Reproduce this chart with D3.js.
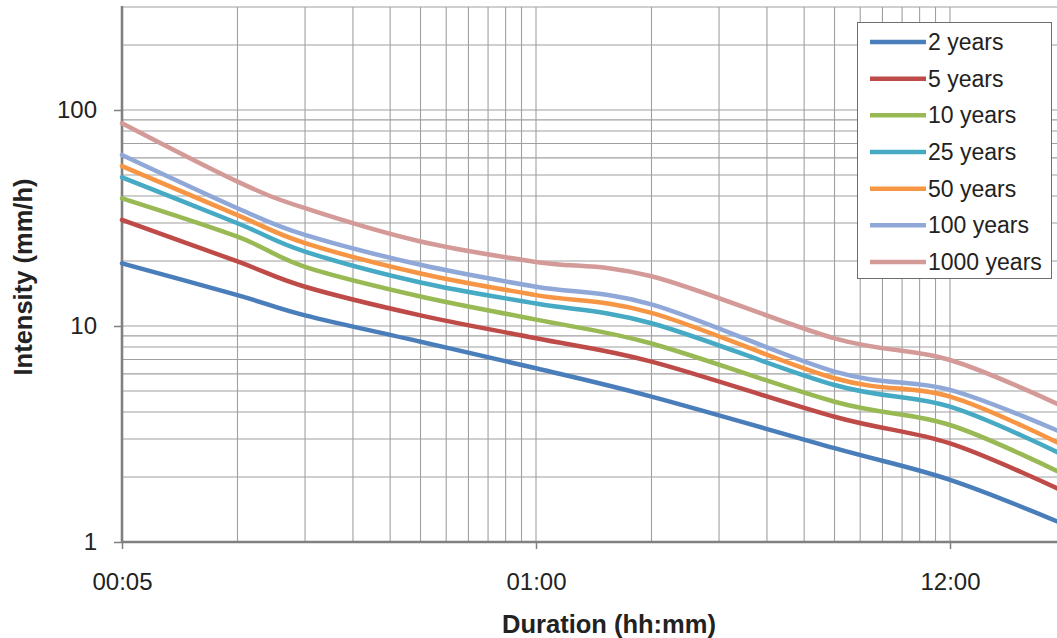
<!DOCTYPE html>
<html>
<head>
<meta charset="utf-8">
<script src="https://cdn.jsdelivr.net/npm/d3@7"></script>
<style>
  html, body { margin: 0; padding: 0; background: #ffffff; overflow: hidden; }
  svg { display: block; font-family: "Liberation Sans", Arial, sans-serif; }
</style>
</head>
<body>
<svg id="chart" width="1057" height="638"></svg>
<script>
// ---- data ----
const durations = [5, 10, 15, 30, 60, 120, 360, 720, 1440]; // minutes
const seriesNames = ["2 years", "5 years", "10 years", "25 years", "50 years", "100 years", "1000 years"];
const y2    = [19.5, 13.9, 11.2, 8.46, 6.37, 4.71, 2.72, 1.94, 1.20];
const y5    = [31.0, 19.9, 15.2, 11.2, 8.77, 6.84, 3.80, 2.86, 1.70];
const y10   = [39.0, 25.9, 18.8, 13.7, 10.7, 8.30, 4.46, 3.48, 2.04];
const y25   = [48.8, 29.9, 22.1, 15.9, 12.7, 10.3, 5.33, 4.23, 2.50];
const y50   = [55.0, 32.6, 24.2, 17.5, 13.9, 11.5, 5.73, 4.71, 2.77];
const y100  = [61.9, 35.1, 26.4, 19.2, 15.2, 12.6, 6.15, 5.06, 3.16];
const y1000 = [86.8, 46.6, 35.1, 24.6, 19.8, 17.0, 8.77, 6.96, 4.19];
const seriesValues = [y2, y5, y10, y25, y50, y100, y1000];
const seriesColors = ["#4A7EBB", "#BE4B48", "#98B954", "#46AAC5", "#F69544", "#8FA8D8", "#D49A98"];

const xMajorTicks = [5, 60, 720];
const xTickLabels = ["00:05", "01:00", "12:00"];
const yMajorTicks = [1, 10, 100];
const yTickLabels = ["1", "10", "100"];
const yMinorGrid = [2,3,4,5,6,7,8,9,20,30,40,50,60,70,80,90,200,300];
const xMinorGrid = [10,15,20,25,30,35,40,45,50,55,120,180,240,300,360,420,480,540,600,660,1440];

// ---- layout ----
const W = 1057, H = 638;
const svg = d3.select("#chart");

const x = d3.scaleLog().domain([5, 720]).range([122, 950]);
const y = d3.scaleLog().domain([1, 100]).range([542, 110]);
const yTop = y(300);
const xRight = W + 20;

// gridlines
const grid = svg.append("g");
grid.selectAll("line.hg").data(yMinorGrid.concat(yMajorTicks)).enter().append("line")
  .attr("x1", x(5)).attr("x2", xRight)
  .attr("y1", d => y(d)).attr("y2", d => y(d))
  .attr("stroke", "#a0a0a0").attr("stroke-width", 1.1);
grid.selectAll("line.vg").data(xMinorGrid.concat(xMajorTicks)).enter().append("line")
  .attr("x1", d => x(d)).attr("x2", d => x(d))
  .attr("y1", yTop).attr("y2", y(1))
  .attr("stroke", "#a0a0a0").attr("stroke-width", 1.1);

// axes
const xAxis = d3.axisBottom(x).tickValues(xMajorTicks)
  .tickFormat((d, i) => xTickLabels[i]).tickSize(7).tickPadding(24);
const yAxis = d3.axisLeft(y).tickValues(yMajorTicks)
  .tickFormat((d, i) => yTickLabels[i]).tickSize(8).tickPadding(17);

const gx = svg.append("g").attr("transform", `translate(0,${y(1)})`).call(xAxis);
gx.select(".domain").remove();
gx.selectAll(".tick line").attr("stroke", "#808080").attr("stroke-width", 1.5);
gx.selectAll(".tick text").attr("font-size", 24).attr("fill", "#222").attr("font-family", "Liberation Sans, Arial, sans-serif");

const gy = svg.append("g").attr("transform", `translate(${x(5)},0)`).call(yAxis);
gy.select(".domain").remove();
gy.selectAll(".tick line").attr("stroke", "#808080").attr("stroke-width", 1.5);
gy.selectAll(".tick text").attr("font-size", 24).attr("fill", "#222").attr("font-family", "Liberation Sans, Arial, sans-serif");

// axis lines
svg.append("line").attr("x1", x(5)).attr("x2", xRight).attr("y1", y(1)).attr("y2", y(1))
  .attr("stroke", "#808080").attr("stroke-width", 2.6);
svg.append("line").attr("x1", x(5)).attr("x2", x(5)).attr("y1", yTop - 1).attr("y2", y(1) + 1)
  .attr("stroke", "#808080").attr("stroke-width", 2.6);

// series lines (Excel-style smoothing: uniform Catmull-Rom / cardinal with tension 0)
const line = d3.line()
  .x((d, i) => x(durations[i]))
  .y(d => y(d))
  .curve(d3.curveCardinal.tension(0));

svg.append("g").selectAll("path").data(seriesValues).enter().append("path")
  .attr("d", d => line(d))
  .attr("fill", "none")
  .attr("stroke", (d, i) => seriesColors[i])
  .attr("stroke-width", 4.5)
  .attr("stroke-linejoin", "round")
  .attr("stroke-linecap", "round");

// axis titles
svg.append("text")
  .attr("x", 609).attr("y", 633)
  .attr("text-anchor", "middle")
  .attr("font-size", 25.5).attr("font-weight", "bold").attr("fill", "#222")
  .text("Duration (hh:mm)");
svg.append("text")
  .attr("transform", "translate(32,277) rotate(-90)")
  .attr("text-anchor", "middle")
  .attr("font-size", 25.5).attr("font-weight", "bold").attr("fill", "#222")
  .text("Intensity (mm/h)");

// legend
const lg = svg.append("g");
lg.append("rect").attr("x", 857.5).attr("y", 22.5).attr("width", 194).attr("height", 256)
  .attr("fill", "#ffffff").attr("stroke", "#6e6e6e").attr("stroke-width", 1);
const rowY = d3.scaleLinear().domain([0, 6]).range([42, 262]);
const items = lg.selectAll("g.item").data(seriesNames).enter().append("g");
items.append("line")
  .attr("x1", 870).attr("x2", 926)
  .attr("y1", (d, i) => rowY(i)).attr("y2", (d, i) => rowY(i))
  .attr("stroke", (d, i) => seriesColors[i]).attr("stroke-width", 4.5);
items.append("text")
  .attr("x", 928).attr("y", (d, i) => rowY(i) + 8)
  .attr("font-size", 23).attr("fill", "#222")
  .text(d => d);
</script>
</body>
</html>
